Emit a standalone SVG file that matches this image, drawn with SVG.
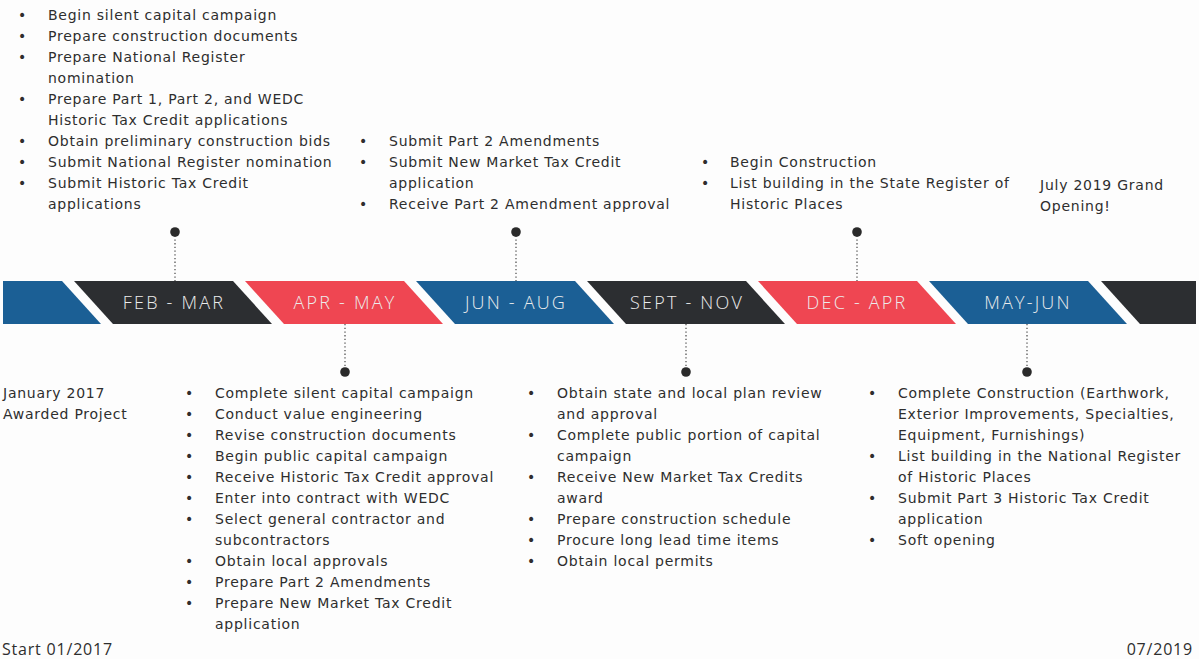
<svg xmlns="http://www.w3.org/2000/svg" width="1199" height="659" viewBox="0 0 1199 659">
  <defs>
    <style>
      .body { font-family: "DejaVu Sans", "Liberation Sans", sans-serif; font-size: 14px; letter-spacing: 0.75px; fill: #2e2e2e; }
      .body .dot { letter-spacing: 0; }
      .foot { font-family: "Open Sans", "Liberation Sans", sans-serif; font-size: 16px; letter-spacing: 0.8px; fill: #2e2e2e; }
      .band { font-family: "Open Sans", "Liberation Sans", sans-serif; font-size: 18px; font-weight: 300; fill: #ececec; text-anchor: middle; letter-spacing: 2.2px; }
      .blue { fill: #1b5f95; }
      .dark { fill: #2c2e31; }
      .red { fill: #ef4652; }
      .stem { stroke: #555; stroke-width: 1.3; stroke-dasharray: 1.3 2.4; fill: none; }
      .pin { fill: #2a2a2a; }
    </style>
  </defs>
  <rect width="1199" height="659" fill="#fdfdfd"/>

  <!-- slanted period band -->
  <g id="band">
    <polygon class="blue" points="3,281 62,281 101,324 3,324"/>
    <polygon class="dark" points="74,281 233,281 272,324 113,324"/>
    <polygon class="red" points="245,281 404,281 443,324 284,324"/>
    <polygon class="blue" points="416,281 575,281 614,324 455,324"/>
    <polygon class="dark" points="587,281 746,281 785,324 626,324"/>
    <polygon class="red" points="758,281 917,281 956,324 797,324"/>
    <polygon class="blue" points="929,281 1088,281 1127,324 968,324"/>
    <polygon class="dark" points="1101,281 1196,281 1196,324 1140,324"/>
  </g>

  <g id="period-feb-mar"><text class="band" x="174" y="309">FEB - MAR</text></g>
  <g id="period-apr-may"><text class="band" x="345" y="309">APR - MAY</text></g>
  <g id="period-jun-aug"><text class="band" x="516" y="309">JUN - AUG</text></g>
  <g id="period-sept-nov"><text class="band" x="687" y="309">SEPT - NOV</text></g>
  <g id="period-dec-apr"><text class="band" x="857" y="309">DEC - APR</text></g>
  <g id="period-may-jun"><text class="band" x="1028" y="309">MAY-JUN</text></g>

  <!-- dotted stems joining the band to each task list -->
  <g id="connectors">
    <line class="stem" x1="175" y1="232" x2="175" y2="281"/>
    <line class="stem" x1="516" y1="232" x2="516" y2="281"/>
    <line class="stem" x1="857" y1="232" x2="857" y2="281"/>
    <line class="stem" x1="345" y1="324" x2="345" y2="372"/>
    <line class="stem" x1="686" y1="324" x2="686" y2="372"/>
    <line class="stem" x1="1027" y1="324" x2="1027" y2="372"/>
    <circle class="pin" cx="175" cy="232" r="4.8"/>
    <circle class="pin" cx="516" cy="232" r="4.8"/>
    <circle class="pin" cx="857" cy="232" r="4.8"/>
    <circle class="pin" cx="345" cy="372" r="4.8"/>
    <circle class="pin" cx="686" cy="372" r="4.8"/>
    <circle class="pin" cx="1027" cy="372" r="4.8"/>
  </g>

  <!-- FEB - MAR tasks -->
  <g id="tasks-feb-mar" class="body">
    <text class="dot" x="18" y="20">•</text><text x="48" y="20">Begin silent capital campaign</text>
    <text class="dot" x="18" y="41">•</text><text x="48" y="41">Prepare construction documents</text>
    <text class="dot" x="18" y="62">•</text><text x="48" y="62">Prepare National Register</text>
    <text x="48" y="83">nomination</text>
    <text class="dot" x="18" y="104">•</text><text x="48" y="104">Prepare Part 1, Part 2, and WEDC</text>
    <text x="48" y="125">Historic Tax Credit applications</text>
    <text class="dot" x="18" y="146">•</text><text x="48" y="146">Obtain preliminary construction bids</text>
    <text class="dot" x="18" y="167">•</text><text x="48" y="167">Submit National Register nomination</text>
    <text class="dot" x="18" y="188">•</text><text x="48" y="188">Submit Historic Tax Credit</text>
    <text x="48" y="209">applications</text>
  </g>

  <!-- JUN - AUG tasks -->
  <g id="tasks-jun-aug" class="body">
    <text class="dot" x="359" y="146">•</text><text x="389" y="146">Submit Part 2 Amendments</text>
    <text class="dot" x="359" y="167">•</text><text x="389" y="167">Submit New Market Tax Credit</text>
    <text x="389" y="188">application</text>
    <text class="dot" x="359" y="209">•</text><text x="389" y="209">Receive Part 2 Amendment approval</text>
  </g>

  <!-- DEC - APR tasks -->
  <g id="tasks-dec-apr" class="body">
    <text class="dot" x="701" y="167">•</text><text x="730" y="167">Begin Construction</text>
    <text class="dot" x="701" y="188">•</text><text x="730" y="188">List building in the State Register of</text>
    <text x="730" y="209">Historic Places</text>
  </g>

  <g id="grand-opening" class="body">
    <text x="1040" y="190">July 2019 Grand</text>
    <text x="1040" y="211">Opening!</text>
  </g>

  <g id="awarded" class="body">
    <text x="3" y="398">January 2017</text>
    <text x="3" y="419">Awarded Project</text>
  </g>

  <!-- APR - MAY tasks -->
  <g id="tasks-apr-may" class="body">
    <text class="dot" x="185" y="398">•</text><text x="215" y="398">Complete silent capital campaign</text>
    <text class="dot" x="185" y="419">•</text><text x="215" y="419">Conduct value engineering</text>
    <text class="dot" x="185" y="440">•</text><text x="215" y="440">Revise construction documents</text>
    <text class="dot" x="185" y="461">•</text><text x="215" y="461">Begin public capital campaign</text>
    <text class="dot" x="185" y="482">•</text><text x="215" y="482">Receive Historic Tax Credit approval</text>
    <text class="dot" x="185" y="503">•</text><text x="215" y="503">Enter into contract with WEDC</text>
    <text class="dot" x="185" y="524">•</text><text x="215" y="524">Select general contractor and</text>
    <text x="215" y="545">subcontractors</text>
    <text class="dot" x="185" y="566">•</text><text x="215" y="566">Obtain local approvals</text>
    <text class="dot" x="185" y="587">•</text><text x="215" y="587">Prepare Part 2 Amendments</text>
    <text class="dot" x="185" y="608">•</text><text x="215" y="608">Prepare New Market Tax Credit</text>
    <text x="215" y="629">application</text>
  </g>

  <!-- SEPT - NOV tasks -->
  <g id="tasks-sept-nov" class="body">
    <text class="dot" x="527" y="398">•</text><text x="557" y="398">Obtain state and local plan review</text>
    <text x="557" y="419">and approval</text>
    <text class="dot" x="527" y="440">•</text><text x="557" y="440">Complete public portion of capital</text>
    <text x="557" y="461">campaign</text>
    <text class="dot" x="527" y="482">•</text><text x="557" y="482">Receive New Market Tax Credits</text>
    <text x="557" y="503">award</text>
    <text class="dot" x="527" y="524">•</text><text x="557" y="524">Prepare construction schedule</text>
    <text class="dot" x="527" y="545">•</text><text x="557" y="545">Procure long lead time items</text>
    <text class="dot" x="527" y="566">•</text><text x="557" y="566">Obtain local permits</text>
  </g>

  <!-- MAY-JUN tasks -->
  <g id="tasks-may-jun" class="body">
    <text class="dot" x="868" y="398">•</text><text x="898" y="398">Complete Construction (Earthwork,</text>
    <text x="898" y="419">Exterior Improvements, Specialties,</text>
    <text x="898" y="440">Equipment, Furnishings)</text>
    <text class="dot" x="868" y="461">•</text><text x="898" y="461">List building in the National Register</text>
    <text x="898" y="482">of Historic Places</text>
    <text class="dot" x="868" y="503">•</text><text x="898" y="503">Submit Part 3 Historic Tax Credit</text>
    <text x="898" y="524">application</text>
    <text class="dot" x="868" y="545">•</text><text x="898" y="545">Soft opening</text>
  </g>

  <g id="range" class="foot">
    <text x="2" y="655">Start 01/2017</text>
    <text x="1193" y="655" text-anchor="end">07/2019</text>
  </g>
</svg>
